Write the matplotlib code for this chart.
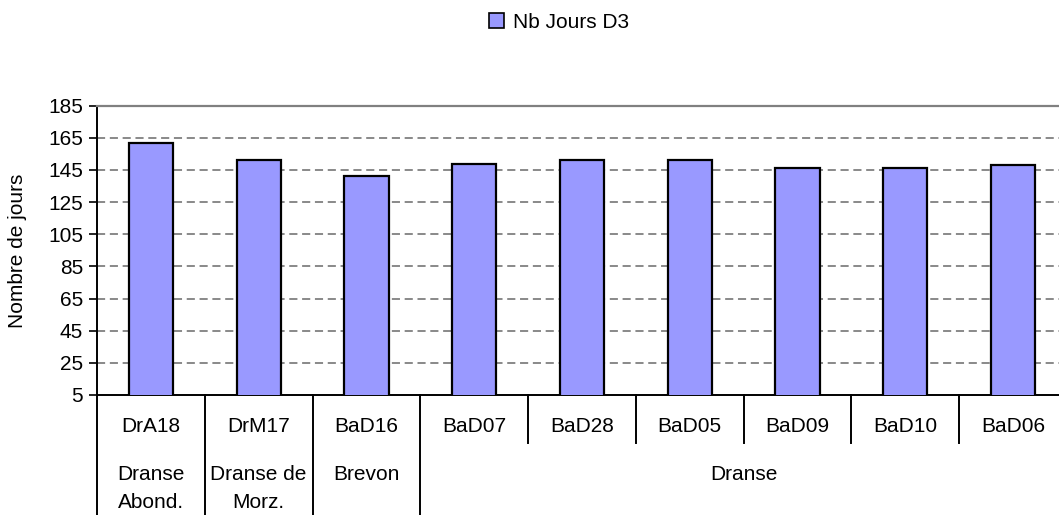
import matplotlib
matplotlib.use("Agg")
import matplotlib.pyplot as plt
from matplotlib.patches import Patch

plt.rcParams['font.family'] = ['Liberation Sans', 'DejaVu Sans']

stations = ["DrA18", "DrM17", "BaD16", "BaD07", "BaD28", "BaD05", "BaD09", "BaD10", "BaD06"]
nb_jours_d3 = [162, 151, 141, 149, 151, 151, 146, 146, 148]
groups = ["Dranse\nAbond.", "Dranse de\nMorz.", "Brevon", "Dranse"]
group_spans = [(0, 0), (1, 1), (2, 2), (3, 8)]
series_name = "Nb Jours D3"
yticks = list(range(5, 186, 20))

W, H = 1059, 515
fig = plt.figure(figsize=(W / 100, H / 100), dpi=100)
left, right, top, bottom = 97, 1067, 105.7, 395
ax = fig.add_axes([left / W, 1 - bottom / H, (right - left) / W, (bottom - top) / H])

fs = 15
bar_color = "#9999FF"
x = list(range(len(stations)))
ax.bar(x, nb_jours_d3, width=0.41, color=bar_color, edgecolor="black", linewidth=1.6, zorder=3)

ax.set_xlim(-0.5, len(stations) - 0.5)
ax.set_ylim(5, 185)
ax.set_yticks(yticks)
ax.set_yticklabels([str(v) for v in yticks], fontsize=fs)
ax.tick_params(axis='y', direction='out', length=6, width=1.2, pad=4)
ax.set_xticks(x)
ax.set_xticklabels([])
ax.tick_params(axis='x', direction='in', length=4, width=1.2)

for v in yticks[1:-1]:
    ax.axhline(v, color="#808080", linewidth=1.3, linestyle=(0, (4.5, 2.6)), zorder=1)

ax.spines['top'].set_color("#808080")
ax.spines['top'].set_linewidth(1.6)
ax.spines['right'].set_visible(False)
ax.spines['left'].set_linewidth(1.4)
ax.spines['bottom'].set_linewidth(1.4)

ax.set_ylabel("Nombre de jours", fontsize=fs)
ax.yaxis.set_label_coords(-(left - 27) / (right - left), 0.5)

ph = bottom - top
tr = ax.get_xaxis_transform()
def yfrac(py):
    return -(py - bottom) / ph

# first row labels
for i, s in enumerate(stations):
    ax.text(i, yfrac(426), s, transform=tr, ha='center', va='center', fontsize=fs)

# separators
group_edges = set()
for a, b in group_spans:
    group_edges.add(a - 0.5)
    group_edges.add(b + 0.5)
for k in range(len(stations) + 1):
    xb = k - 0.5
    yend = yfrac(H + 5) if xb in group_edges else yfrac(443)
    ax.plot([xb, xb], [0, yend], transform=tr, color="black", linewidth=1.4, clip_on=False)

# second row labels
for g, (a, b) in zip(groups, group_spans):
    xc = (a + b) / 2
    lines = g.split("\n")
    ys = [474, 503]
    for ln, yy in zip(lines, ys):
        ax.text(xc, yfrac(yy), ln, transform=tr, ha='center', va='center', fontsize=fs)

handle = Patch(facecolor=bar_color, edgecolor="black", linewidth=1.2)
fig.legend([handle], [series_name], loc='center', bbox_to_anchor=(559 / W, 1 - 22 / H),
           frameon=False, fontsize=fs, handlelength=0.72, handleheight=0.72, handletextpad=0.4)

fig.savefig("out.png", dpi=100)
